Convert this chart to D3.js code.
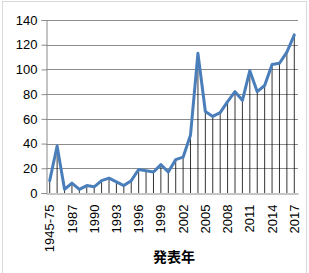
<!DOCTYPE html>
<html>
<head>
<meta charset="utf-8">
<script src="https://cdn.jsdelivr.net/npm/d3@7"></script>
<style>
  body { margin: 0; background: #fff; }
  svg text { font-family: "Liberation Sans", Arial, sans-serif; fill: #000; }
</style>
</head>
<body>
<div id="chart-container"></div>
<script>
// categories (x axis) - only every third one gets a label
const years = ["1945-75", "1985", "1986", "1987", "1988", "1989", "1990", "1991", "1992",
  "1993", "1994", "1995", "1996", "1997", "1998", "1999", "2000", "2001", "2002", "2003",
  "2004", "2005", "2006", "2007", "2008", "2009", "2010", "2011", "2012", "2013", "2014",
  "2015", "2016", "2017"];
// counts per year
const counts = [10, 38, 3, 8, 3, 6, 5, 10, 12, 9, 6, 10, 19, 18, 17, 23, 17, 27, 29, 47,
  113, 66, 62, 65, 74, 82, 75, 99, 82, 87, 104, 105, 114, 128];
const yTicks = [0, 20, 40, 60, 80, 100, 120, 140];
const xTitle = "発表年";

const width = 309;
const height = 273;
const margin = { top: 20, right: 11, bottom: 80, left: 46 };

const svg = d3.select("#chart-container").append("svg")
    .attr("width", width)
    .attr("height", height);

// outer chart frame
svg.append("rect")
    .attr("x", 2.5)
    .attr("y", 1.5)
    .attr("width", 304)
    .attr("height", 290)
    .attr("fill", "none")
    .attr("stroke", "#d9d9d9");

const x = d3.scaleBand()
    .domain(years)
    .range([margin.left, width - margin.right])
    .padding(0);

const y = d3.scaleLinear()
    .domain([0, 140])
    .range([height - margin.bottom, margin.top]);

const cx = d => x(d) + x.bandwidth() / 2;

// horizontal gridlines
svg.append("g")
    .selectAll("line")
    .data(yTicks.filter(t => t > 0))
    .join("line")
    .attr("x1", margin.left)
    .attr("x2", width - margin.right)
    .attr("y1", d => Math.round(y(d)) + 0.5)
    .attr("y2", d => Math.round(y(d)) + 0.5)
    .attr("stroke", "#8c8c8c")
    .attr("stroke-width", 1);

// y axis
const yAxis = svg.append("g")
    .attr("transform", `translate(${margin.left + 0.5},0)`)
    .call(d3.axisLeft(y).tickValues(yTicks).tickSize(5).tickPadding(4));
yAxis.selectAll("text").style("font-size", "13px");
yAxis.selectAll("line, path").attr("stroke", "#8c8c8c");

// drop lines from each point down to the axis
svg.append("g")
    .selectAll("line")
    .data(years)
    .join("line")
    .attr("x1", d => cx(d))
    .attr("x2", d => cx(d))
    .attr("y1", (d, i) => y(counts[i]))
    .attr("y2", y(0))
    .attr("stroke", "#000")
    .attr("stroke-width", 0.8);

// x axis
const xAxis = svg.append("g")
    .attr("transform", `translate(0,${Math.round(y(0)) + 0.5})`)
    .call(d3.axisBottom(x)
        .tickValues(years.filter((d, i) => i % 3 === 0))
        .tickSize(0)
        .tickPadding(0));
xAxis.select("path").attr("stroke", "#8c8c8c");
xAxis.selectAll("text")
    .style("font-size", "13px")
    .attr("text-anchor", "end")
    .attr("transform", "rotate(-90)")
    .attr("x", -11)
    .attr("y", 0)
    .attr("dy", "0.35em");

// the series line
const line = d3.line()
    .x((d, i) => cx(years[i]))
    .y(d => y(d));

svg.append("path")
    .datum(counts)
    .attr("fill", "none")
    .attr("stroke", "#4a7ebb")
    .attr("stroke-width", 3)
    .attr("stroke-linejoin", "round")
    .attr("stroke-linecap", "round")
    .attr("d", line);

// axis title
svg.append("text")
    .attr("x", (margin.left + width - margin.right) / 2 + 2)
    .attr("y", 262)
    .attr("text-anchor", "middle")
    .style("font-family", "'Noto Sans CJK JP', sans-serif")
    .style("font-size", "14px")
    .style("font-weight", "bold")
    .text(xTitle);
</script>
</body>
</html>
